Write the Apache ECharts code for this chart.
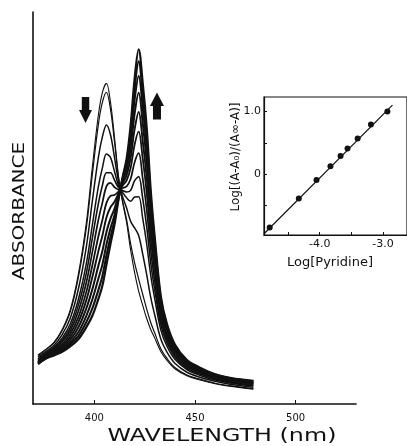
<!DOCTYPE html>
<html>
<head>
<meta charset="utf-8">
<script src="https://cdn.jsdelivr.net/npm/echarts@6/dist/echarts.min.js"></script>
<style>
  html, body { margin: 0; padding: 0; background: #fff; }
  #chart { width: 407px; height: 446px; }
</style>
</head>
<body>
<div id="chart"></div>
<script>
// wavelength grid (nm) shared by every spectrum
const wavelengths = [372, 376, 380, 384, 388, 392, 396, 399, 402, 404, 406, 408, 410, 412, 414, 416,
  418, 420, 422, 424, 426, 428, 430, 433, 436, 440, 446, 452, 460, 468, 479]

// absorbance (no pyridine -> saturated)
const spec00 = [0.125, 0.140, 0.158, 0.190, 0.240, 0.330, 0.462, 0.605, 0.738, 0.795, 0.818, 0.770, 0.680, 0.580, 0.515, 0.463,
  0.393, 0.335, 0.288, 0.252, 0.218, 0.190, 0.168, 0.134, 0.112, 0.090, 0.072, 0.062, 0.052, 0.045, 0.038]
const spec01 = [0.124, 0.139, 0.156, 0.187, 0.235, 0.322, 0.449, 0.586, 0.714, 0.770, 0.795, 0.752, 0.669, 0.577, 0.518, 0.471,
  0.409, 0.360, 0.319, 0.280, 0.242, 0.208, 0.181, 0.141, 0.117, 0.093, 0.074, 0.064, 0.053, 0.046, 0.039]
const spec02 = [0.120, 0.134, 0.150, 0.177, 0.219, 0.292, 0.401, 0.518, 0.630, 0.682, 0.712, 0.687, 0.629, 0.567, 0.529, 0.500,
  0.466, 0.449, 0.430, 0.383, 0.330, 0.272, 0.227, 0.166, 0.133, 0.104, 0.081, 0.069, 0.058, 0.050, 0.043]
const spec03 = [0.116, 0.131, 0.145, 0.168, 0.204, 0.266, 0.358, 0.457, 0.555, 0.603, 0.638, 0.629, 0.593, 0.557, 0.540, 0.526,
  0.517, 0.528, 0.529, 0.474, 0.408, 0.328, 0.268, 0.189, 0.148, 0.114, 0.088, 0.074, 0.061, 0.053, 0.046]
const spec04 = [0.114, 0.128, 0.142, 0.163, 0.195, 0.251, 0.334, 0.423, 0.512, 0.558, 0.590, 0.590, 0.571, 0.552, 0.545, 0.541,
  0.545, 0.570, 0.580, 0.525, 0.452, 0.360, 0.291, 0.202, 0.157, 0.120, 0.091, 0.077, 0.064, 0.055, 0.048]
const spec05 = [0.112, 0.126, 0.139, 0.158, 0.187, 0.236, 0.310, 0.388, 0.470, 0.514, 0.555, 0.564, 0.553, 0.547, 0.551, 0.555,
  0.574, 0.617, 0.640, 0.576, 0.496, 0.392, 0.314, 0.214, 0.165, 0.125, 0.095, 0.080, 0.066, 0.057, 0.050]
const spec06 = [0.110, 0.124, 0.136, 0.152, 0.179, 0.221, 0.286, 0.354, 0.428, 0.470, 0.513, 0.531, 0.533, 0.542, 0.557, 0.570,
  0.602, 0.662, 0.695, 0.627, 0.539, 0.424, 0.338, 0.227, 0.173, 0.131, 0.098, 0.083, 0.068, 0.059, 0.052]
const spec07 = [0.108, 0.122, 0.133, 0.148, 0.171, 0.208, 0.265, 0.324, 0.390, 0.430, 0.476, 0.502, 0.516, 0.537, 0.562, 0.583,
  0.628, 0.701, 0.745, 0.672, 0.578, 0.453, 0.358, 0.238, 0.181, 0.136, 0.102, 0.086, 0.070, 0.061, 0.054]
const spec08 = [0.106, 0.120, 0.130, 0.143, 0.164, 0.195, 0.244, 0.293, 0.353, 0.391, 0.439, 0.473, 0.498, 0.532, 0.567, 0.596,
  0.653, 0.741, 0.794, 0.718, 0.617, 0.481, 0.379, 0.250, 0.188, 0.141, 0.105, 0.088, 0.072, 0.062, 0.055]
const spec09 = [0.105, 0.119, 0.128, 0.139, 0.157, 0.183, 0.225, 0.267, 0.320, 0.356, 0.407, 0.448, 0.482, 0.528, 0.571, 0.607,
  0.675, 0.776, 0.837, 0.758, 0.651, 0.506, 0.397, 0.259, 0.195, 0.145, 0.108, 0.090, 0.073, 0.064, 0.057]
const spec10 = [0.103, 0.117, 0.126, 0.136, 0.152, 0.173, 0.209, 0.244, 0.291, 0.327, 0.379, 0.426, 0.469, 0.525, 0.575, 0.617,
  0.694, 0.805, 0.874, 0.792, 0.681, 0.527, 0.412, 0.268, 0.200, 0.149, 0.110, 0.092, 0.075, 0.065, 0.058]
const spec11 = [0.102, 0.116, 0.124, 0.133, 0.147, 0.165, 0.196, 0.225, 0.268, 0.302, 0.356, 0.408, 0.458, 0.522, 0.578, 0.625,
  0.710, 0.830, 0.905, 0.820, 0.705, 0.545, 0.425, 0.275, 0.205, 0.152, 0.112, 0.094, 0.076, 0.066, 0.059]

const spectra = [spec00, spec01, spec02, spec03, spec04, spec05, spec06, spec07, spec08, spec09, spec10, spec11]
const lineWidths = [1.1, 1.2, 1.5, 1.5, 1.6, 1.7, 1.8, 1.9, 2, 2, 2.1, 2.2]

// inset: Hill-type plot
const logPyridine = [-4.79, -4.33, -4.05, -3.83, -3.67, -3.56, -3.40, -3.19, -2.93]
const logRatio = [-0.85, -0.39, -0.095, 0.127, 0.29, 0.41, 0.567, 0.79, 1.0]
const fitX = [-4.88, -2.85]
const fitY = [-0.95, 1.10]

// arrow markers (down = 405 band falls, up = 421 band grows)
const arrowPos = [[395.6, 0.75], [431.1, 0.76]]

const black = '#111'
const font = 'DejaVu Sans'

const spectrumSeries = spectra.map((vals, i) => ({
  type: 'line',
  xAxisIndex: 0,
  yAxisIndex: 0,
  data: wavelengths.map((w, j) => [w, vals[j]]),
  showSymbol: false,
  smooth: 0.35,
  lineStyle: { color: black, width: lineWidths[i] },
  silent: true,
  z: 2,
}))

const option = {
  animation: false,
  backgroundColor: '#fff',
  grid: [
    { left: 33, top: 12, right: 51, bottom: 42 },
    { left: 264, top: 97, right: 0, bottom: 211, show: true, borderColor: black, borderWidth: 1.2, backgroundColor: '#fff', z: 5 },
  ],
  xAxis: [
    {
      type: 'value', gridIndex: 0, min: 369.5, max: 530,
      axisLine: { onZero: false, lineStyle: { color: black, width: 1.6 } },
      axisTick: { inside: true, length: 4, customValues: [400, 450, 500], lineStyle: { color: black } },
      axisLabel: { customValues: [400, 450, 500], color: black, fontFamily: font, fontSize: 10, margin: 9 },
      splitLine: { show: false },
    },
    {
      type: 'value', gridIndex: 1, min: -4.88, max: -2.62,
      axisLine: { onZero: false, lineStyle: { color: black, width: 1.2 } },
      axisTick: { inside: true, length: 3, customValues: [-4.5, -4, -3.5, -3], lineStyle: { color: black } },
      axisLabel: { customValues: [-4, -3], color: black, fontFamily: font, fontSize: 11, margin: 4,
        formatter: v => v.toFixed(1) },
      splitLine: { show: false },
      z: 6,
    },
  ],
  yAxis: [
    {
      type: 'value', gridIndex: 0, min: 0, max: 1,
      axisLine: { show: true, onZero: false, lineStyle: { color: black, width: 1.6 } },
      axisTick: { show: false },
      axisLabel: { show: false },
      splitLine: { show: false },
    },
    {
      type: 'value', gridIndex: 1, min: -0.97, max: 1.23,
      axisLine: { show: true, onZero: false, lineStyle: { color: black, width: 1.2 } },
      axisTick: { inside: true, length: 3, customValues: [-0.5, 0, 0.5, 1], lineStyle: { color: black } },
      axisLabel: { customValues: [0, 1], color: black, fontFamily: font, fontSize: 11, margin: 3,
        formatter: v => (v === 0 ? '0' : v.toFixed(1)) },
      splitLine: { show: false },
      z: 6,
    },
  ],
  series: [
    ...spectrumSeries,
    {
      type: 'scatter',
      xAxisIndex: 0,
      yAxisIndex: 0,
      data: [
        { value: arrowPos[0], symbol: 'path://M3,0L11,0L11,13L14,13L7,26L0,13L3,13Z', symbolSize: [13, 26] },
        { value: arrowPos[1], symbol: 'path://M7,0L14,13L11,13L11,26L3,26L3,13L0,13Z', symbolSize: [14, 27] },
      ],
      itemStyle: { color: black, opacity: 1 },
      silent: true,
    },
    {
      type: 'line',
      xAxisIndex: 1,
      yAxisIndex: 1,
      data: fitX.map((x, i) => [x, fitY[i]]),
      showSymbol: false,
      lineStyle: { color: black, width: 1.2 },
      silent: true,
      z: 7,
    },
    {
      type: 'scatter',
      xAxisIndex: 1,
      yAxisIndex: 1,
      data: logPyridine.map((x, i) => [x, logRatio[i]]),
      symbolSize: 6,
      itemStyle: { color: black, opacity: 1 },
      silent: true,
      z: 8,
    },
  ],
  graphic: [
    { type: 'text', x: 222, y: 437, scaleX: 1.4, style: { text: 'WAVELENGTH (nm)', font: '17px DejaVu Sans', fill: black, align: 'center', verticalAlign: 'middle' } },
    { type: 'text', x: 20, y: 211, rotation: Math.PI / 2, scaleX: 1.25, style: { text: 'ABSORBANCE', font: '16px DejaVu Sans', fill: black, align: 'center', verticalAlign: 'middle' } },
    { type: 'text', x: 330, y: 263, style: { text: 'Log[Pyridine]', font: '13px DejaVu Sans', fill: black, align: 'center', verticalAlign: 'middle' } },
    { type: 'text', x: 236, y: 157, rotation: Math.PI / 2, style: { text: 'Log[(A-A₀)/(A∞-A)]', font: '12px DejaVu Sans', fill: black, align: 'center', verticalAlign: 'middle' } },
  ],
}

const chart = echarts.init(document.getElementById('chart'), null, { renderer: 'canvas' })
chart.setOption(option)
</script>
</body>
</html>
